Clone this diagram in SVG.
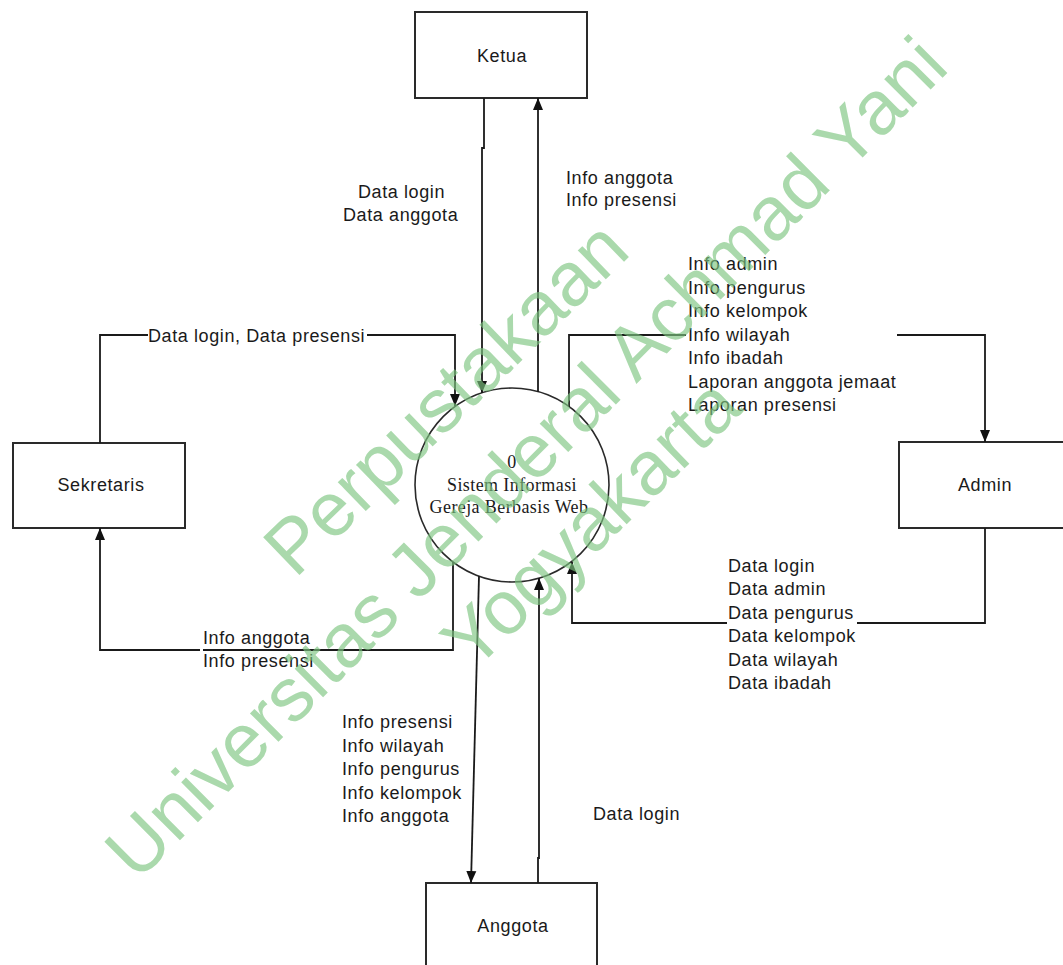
<svg xmlns="http://www.w3.org/2000/svg" width="1063" height="965" viewBox="0 0 1063 965">
<defs>
<marker id="arr" markerUnits="userSpaceOnUse" markerWidth="12" markerHeight="12" viewBox="0 0 12 10" refX="12" refY="5" orient="auto">
<path d="M0,0 L12,5 L0,10 z" fill="#111"/>
</marker>
<style>
.box{fill:#fff;stroke:#2a2a2a;stroke-width:2}
.proc{fill:#fff;stroke:#2a2a2a;stroke-width:1.6}
.ent{font-family:"Liberation Sans",Arial,sans-serif;font-size:18px;letter-spacing:0.6px;fill:#1a1a1a;text-anchor:middle}
.lbl{font-family:"Liberation Sans",Arial,sans-serif;font-size:18px;letter-spacing:0.6px;fill:#1a1a1a}
.ptxt{font-family:"Liberation Serif","Times New Roman",serif;font-size:18px;letter-spacing:0.4px;fill:#1a1a1a;text-anchor:middle}
.ln{fill:none;stroke:#1a1a1a;stroke-width:1.8}
.wm{font-family:"Liberation Sans",Arial,sans-serif;font-size:76px;fill:#7cc47f;fill-opacity:0.65;text-anchor:middle}
</style>
</defs>
<rect width="1063" height="965" fill="#fff"/>

<g id="ketua">
<rect class="box" x="415" y="12" width="172" height="86"/>
<text class="ent" x="502" y="62">Ketua</text>
</g>
<g id="sekretaris">
<rect class="box" x="13" y="443" width="172" height="85"/>
<text class="ent" x="101" y="491">Sekretaris</text>
</g>
<g id="admin">
<rect class="box" x="899" y="442" width="170" height="86"/>
<text class="ent" x="985" y="491">Admin</text>
</g>
<g id="anggota">
<rect class="box" x="426" y="883" width="171" height="100"/>
<text class="ent" x="513" y="932">Anggota</text>
</g>
<g id="process">
<circle class="proc" cx="512" cy="485" r="97"/>
<text class="ptxt" x="512" y="468">0</text>
<text class="ptxt" x="512" y="491">Sistem Informasi</text>
<text class="ptxt" x="509" y="513">Gereja Berbasis Web</text>
</g>

<g id="connectors">
<polyline class="ln" points="484,98 484,148 482,148 482,393" marker-end="url(#arr)"/>
<line class="ln" x1="538" y1="392" x2="538" y2="98" marker-end="url(#arr)"/>
<polyline class="ln" points="100,443 100,335 148,335"/>
<polyline class="ln" points="367,335 455,335 455,406" marker-end="url(#arr)"/>
<polyline class="ln" points="453,562 453,650 203,650"/>
<polyline class="ln" points="200,650 100,650 100,528" marker-end="url(#arr)"/>
<polyline class="ln" points="569,407 569,335 686,335"/>
<polyline class="ln" points="897,335 985,335 985,442" marker-end="url(#arr)"/>
<polyline class="ln" points="985,528 985,623 857,623"/>
<polyline class="ln" points="727,623 572,623 572,562" marker-end="url(#arr)"/>
<line class="ln" x1="479" y1="576" x2="471" y2="883" marker-end="url(#arr)"/>
<polyline class="ln" points="538,883 538,858 539,858 539,578" marker-end="url(#arr)"/>
</g>

<g id="labels">
<text class="lbl" x="358" y="198">Data login</text>
<text class="lbl" x="343" y="221">Data anggota</text>
<text class="lbl" x="566" y="184">Info anggota</text>
<text class="lbl" x="566" y="206">Info presensi</text>
<text class="lbl" x="148" y="342">Data login, Data presensi</text>
<text class="lbl" x="203" y="644">Info anggota</text>
<text class="lbl" x="203" y="667">Info presensi</text>
<text class="lbl" x="688" y="270">Info admin</text>
<text class="lbl" x="688" y="293.5">Info pengurus</text>
<text class="lbl" x="688" y="317">Info kelompok</text>
<text class="lbl" x="688" y="340.5">Info wilayah</text>
<text class="lbl" x="688" y="364">Info ibadah</text>
<text class="lbl" x="688" y="387.5">Laporan anggota jemaat</text>
<text class="lbl" x="688" y="411">Laporan presensi</text>
<text class="lbl" x="728" y="571.5">Data login</text>
<text class="lbl" x="728" y="595">Data admin</text>
<text class="lbl" x="728" y="618.5">Data pengurus</text>
<text class="lbl" x="728" y="642">Data kelompok</text>
<text class="lbl" x="728" y="665.5">Data wilayah</text>
<text class="lbl" x="728" y="689">Data ibadah</text>
<text class="lbl" x="342" y="728">Info presensi</text>
<text class="lbl" x="342" y="751.5">Info wilayah</text>
<text class="lbl" x="342" y="775">Info pengurus</text>
<text class="lbl" x="342" y="798.5">Info kelompok</text>
<text class="lbl" x="342" y="822">Info anggota</text>
<text class="lbl" x="593" y="820">Data login</text>
</g>

<g id="watermark">
<text class="wm" transform="translate(445,397) rotate(-44)" dy="27">Perpustakaan</text>
<text class="wm" transform="translate(525,457) rotate(-45)" dy="27">Universitas Jenderal Achmad Yani</text>
<text class="wm" transform="translate(590,522) rotate(-44)" dy="27">Yogyakarta</text>
</g>
</svg>
